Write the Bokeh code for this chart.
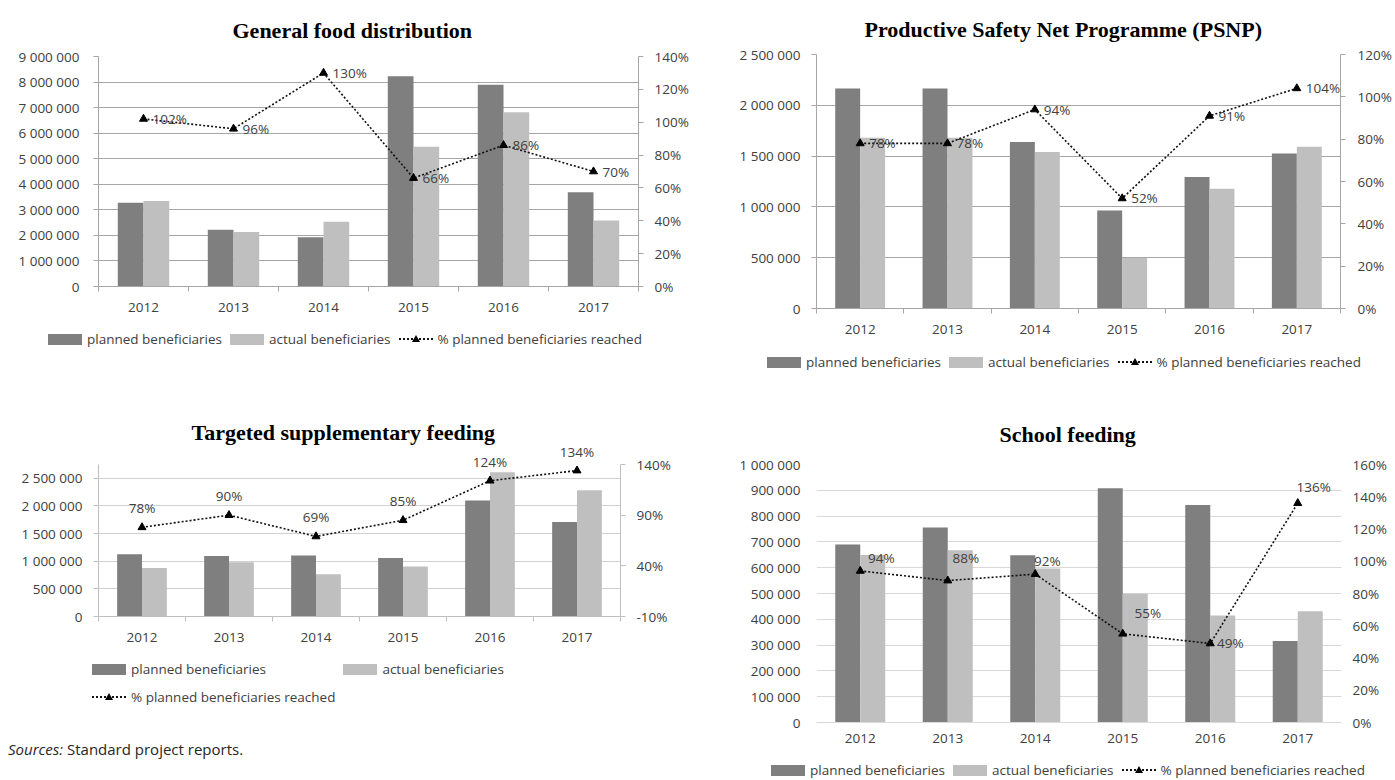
from bokeh.plotting import figure
from bokeh.models import (Range1d, LinearAxis, FixedTicker, ColumnDataSource,
                          LabelSet, Div, CustomJSTickFormatter)
from bokeh.layouts import row, column
from bokeh.transform import dodge
from bokeh.embed import file_html
from bokeh.resources import INLINE
from bokeh.core.properties import value

# ---------------------------------------------------------------- data
years = ["2012", "2013", "2014", "2015", "2016", "2017"]
series_names = ["planned beneficiaries", "actual beneficiaries",
                "% planned beneficiaries reached"]

gfd_planned = [3280000, 2220000, 1930000, 8230000, 7890000, 3690000]
gfd_actual = [3350000, 2130000, 2530000, 5470000, 6820000, 2580000]
gfd_pct = [102, 96, 130, 66, 86, 70]
gfd_left_ticks = [0, 1000000, 2000000, 3000000, 4000000, 5000000,
                  6000000, 7000000, 8000000, 9000000]
gfd_left_max = 9000000
gfd_right_ticks = [0, 20, 40, 60, 80, 100, 120, 140]
gfd_right_span = (0, 140)

psnp_planned = [2165000, 2165000, 1640000, 965000, 1295000, 1525000]
psnp_actual = [1680000, 1680000, 1540000, 497000, 1178000, 1592000]
psnp_pct = [78, 78, 94, 52, 91, 104]
psnp_left_ticks = [0, 500000, 1000000, 1500000, 2000000, 2500000]
psnp_left_max = 2500000
psnp_right_ticks = [0, 20, 40, 60, 80, 100, 120]
psnp_right_span = (0, 120)

tsf_planned = [1125000, 1095000, 1105000, 1060000, 2100000, 1710000]
tsf_actual = [878000, 980000, 765000, 905000, 2610000, 2285000]
tsf_pct = [78, 90, 69, 85, 124, 134]
tsf_left_ticks = [0, 500000, 1000000, 1500000, 2000000, 2500000]
tsf_left_max = 2750000
tsf_right_ticks = [-10, 40, 90, 140]
tsf_right_span = (-10, 140)

school_planned = [690000, 756000, 648000, 908000, 843000, 316000]
school_actual = [649000, 668000, 597000, 499000, 415000, 431000]
school_pct = [94, 88, 92, 55, 49, 136]
school_left_ticks = [0, 100000, 200000, 300000, 400000, 500000,
                     600000, 700000, 800000, 900000, 1000000]
school_left_max = 1000000
school_right_ticks = [0, 20, 40, 60, 80, 100, 120, 140, 160]
school_right_span = (0, 160)

# ---------------------------------------------------------------- styling
PLANNED = "#7f7f7f"
ACTUAL = "#bfbfbf"
TICK_TEXT = "#404040"
LABEL_TEXT = "#404040"
FONT = "Open Sans"
SIZE = "13.5px"
LINE_STYLE = dict(line_color="#111111", line_width=1.6, line_dash="2 2")
MARK_STYLE = dict(marker="triangle", size=8, fill_color="#000000", line_color="#000000")
KEY_ROW_H, KEY_GAP = 20, 8


def number_formatter():
    return CustomJSTickFormatter(
        code=r"return Math.round(tick).toString().replace(/\B(?=(\d{3})+(?!\d))/g, ' ');")


def percent_formatter():
    return CustomJSTickFormatter(code="return Math.round(tick) + '%';")


def style_axis(ax, line_color, tick_out, standoff):
    ax.major_label_text_font = FONT
    ax.major_label_text_font_size = SIZE
    ax.major_label_text_color = TICK_TEXT
    ax.axis_line_color = line_color
    ax.major_tick_line_color = line_color
    ax.major_tick_out = tick_out
    ax.major_tick_in = 0
    ax.minor_tick_line_color = None
    ax.major_label_standoff = standoff


def chart(title, planned, actual, pct, left_ticks, left_max, right_ticks, right_span, g):
    n = len(years)
    centers = [i + 0.5 for i in range(n)]
    bar_w = 1 / 3.5
    # headroom above the axis span (in pixels) so labels over the top stay visible
    stretch = g["fh"] / g["span_h"]
    lo, hi = right_span

    p = figure(width=g["l"] + g["fw"] + g["r"], height=g["t"] + g["fh"] + g["b"],
               min_border_left=g["l"], min_border_right=g["r"],
               min_border_top=g["t"], min_border_bottom=g["b"],
               x_range=Range1d(0, n), y_range=Range1d(0, left_max * stretch),
               output_backend="svg", toolbar_location=None, title=title)
    p.extra_y_ranges = {"pct": Range1d(lo, lo + (hi - lo) * stretch)}
    p.background_fill_color = "white"
    p.border_fill_color = "white"
    p.outline_line_color = None

    p.title.text_font = "Liberation Serif"
    p.title.text_font_style = "bold"
    p.title.text_font_size = "22px"
    p.title.text_color = "#000000"
    p.title.align = "left"
    p.title.offset = g["tx"]
    p.title.standoff = g["ts"]

    src = ColumnDataSource(dict(x=centers, planned=planned, actual=actual, pct=pct))

    p.vbar(x=dodge("x", -bar_w / 2), top="planned", width=bar_w, source=src,
           fill_color=PLANNED, line_color=None)
    p.vbar(x=dodge("x", bar_w / 2), top="actual", width=bar_w, source=src,
           fill_color=ACTUAL, line_color=None)
    p.line("x", "pct", source=src, y_range_name="pct", **LINE_STYLE)
    p.scatter("x", "pct", source=src, y_range_name="pct", **MARK_STYLE)

    lab_src = ColumnDataSource(dict(x=centers, pct=pct, label=[f"{v}%" for v in pct],
                                    dx=g["dx"], dy=g["dy"]))
    p.add_layout(LabelSet(x="x", y="pct", text="label", source=lab_src, y_range_name="pct",
                          x_offset="dx", y_offset="dy", text_font=value(FONT),
                          text_font_size=SIZE, text_color=LABEL_TEXT,
                          text_align=g["align"], text_baseline="middle"))

    # category axis: names at centres, small marks at category boundaries
    xa = p.xaxis[0]
    xa.ticker = FixedTicker(ticks=centers, minor_ticks=list(range(n + 1)))
    xa.formatter = CustomJSTickFormatter(args=dict(names=years),
                                         code="return names[Math.floor(tick)];")
    xa.major_label_text_font = FONT
    xa.major_label_text_font_size = SIZE
    xa.major_label_text_color = TICK_TEXT
    xa.axis_line_color = g["xline"]
    xa.major_tick_line_color = None
    xa.major_tick_out = 0
    xa.major_tick_in = 0
    xa.minor_tick_line_color = g["axis"]
    xa.minor_tick_out = g["xtick"]
    xa.minor_tick_in = 0
    xa.major_label_standoff = g["xso"]

    ya = p.yaxis[0]
    ya.ticker = FixedTicker(ticks=left_ticks)
    ya.formatter = number_formatter()
    ya.bounds = (0, left_max)
    style_axis(ya, g["axis"], g["ltick"], g["lso"])

    ra = LinearAxis(y_range_name="pct", ticker=FixedTicker(ticks=right_ticks),
                    formatter=percent_formatter(), bounds=(lo, hi))
    style_axis(ra, g["axis"], g["rtick"], g["rso"])
    p.add_layout(ra, "right")

    p.xgrid.visible = False
    p.ygrid.ticker = FixedTicker(ticks=left_ticks)
    p.ygrid.grid_line_color = g["grid"]
    p.ygrid.grid_line_width = 1
    return p


def legend_div(width, height, left, columns=3):
    """Series key shown under a chart."""
    def swatch(color):
        return (f'<span style="display:inline-block;width:34px;height:11px;'
                f'background:{color};"></span>')

    line_key = ('<span style="display:inline-block;position:relative;width:34px;height:11px;">'
                '<span style="position:absolute;left:0;width:34px;top:4px;'
                'border-top:2px dotted #111111;"></span>'
                '<span style="position:absolute;left:13px;top:1px;width:0;height:0;'
                'border-left:4px solid transparent;border-right:4px solid transparent;'
                'border-bottom:7px solid #000000;"></span></span>')
    keys = [swatch(PLANNED), swatch(ACTUAL), line_key]
    cells = "".join(
        f'<div style="display:flex;align-items:center;height:{KEY_ROW_H}px;">{k}'
        f'<span style="margin-left:5px;">{name}</span></div>'
        for k, name in zip(keys, series_names))
    html = (f'<div style="display:grid;grid-template-columns:{" ".join(["auto"] * columns)};'
            f'column-gap:{KEY_GAP}px;row-gap:{KEY_GAP}px;justify-content:start;'
            f'padding-left:{left}px;font-family:\'Open Sans\';font-size:13.5px;'
            f'line-height:{KEY_ROW_H}px;color:{TICK_TEXT};white-space:nowrap;">{cells}</div>')
    return Div(text=html, width=width, height=height, margin=(0, 0, 0, 0))


g_gfd = dict(fw=540, fh=230, span_h=230, l=98, r=62, t=56, b=43, tx=134, ts=27,
             axis="#a6a6a6", xline="#a6a6a6", grid="#a6a6a6",
             ltick=5, rtick=5, xtick=5, lso=14, rso=11, xso=11,
             dx=[9] * 6, dy=[0] * 6, align="left")
g_psnp = dict(fw=524, fh=254, span_h=254, l=116, r=55, t=54, b=44, tx=48, ts=25,
              axis="#a6a6a6", xline="#a6a6a6", grid="#a6a6a6",
              ltick=5, rtick=5, xtick=5, lso=11, rso=12, xso=11,
              dx=[9] * 6, dy=[0] * 6, align="left")
g_tsf = dict(fw=522, fh=172, span_h=152, l=98, r=80, t=49, b=43, tx=93, ts=0,
             axis="#bfbfbf", xline="#bfbfbf", grid="#d0d0d0",
             ltick=5, rtick=5, xtick=5, lso=11, rso=11, xso=11,
             dx=[0] * 6, dy=[19] * 6, align="center")
g_school = dict(fw=525, fh=258, span_h=258, l=116, r=54, t=69, b=38, tx=183, ts=36,
                axis=None, xline="#d9d9d9", grid="#d9d9d9",
                ltick=0, rtick=0, xtick=0, lso=16, rso=11, xso=11,
                dx=[21, 18, 12, 25, 20, 16], dy=[13, 23, 13, 21, 0, 16], align="center")

p1 = chart("General food distribution", gfd_planned, gfd_actual, gfd_pct,
           gfd_left_ticks, gfd_left_max, gfd_right_ticks, gfd_right_span, g_gfd)
p2 = chart("Productive Safety Net Programme (PSNP)", psnp_planned, psnp_actual, psnp_pct,
           psnp_left_ticks, psnp_left_max, psnp_right_ticks, psnp_right_span, g_psnp)
p3 = chart("Targeted supplementary feeding", tsf_planned, tsf_actual, tsf_pct,
           tsf_left_ticks, tsf_left_max, tsf_right_ticks, tsf_right_span, g_tsf)
p4 = chart("School feeding", school_planned, school_actual, school_pct,
           school_left_ticks, school_left_max, school_right_ticks, school_right_span, g_school)

k1 = legend_div(700, 66, 48)
k2 = legend_div(695, 43, 67)
k3 = legend_div(700, 48, 92, columns=2)
k4 = legend_div(695, 20, 71)

sources = Div(text=('<div style="padding:32px 0 0 8px;font-family:\'Open Sans\';'
                    'font-size:15px;color:#262626;"><i>Sources:</i> Standard project reports.</div>'),
              width=700, height=73, margin=(0, 0, 0, 0))

page = column(row(column(p1, k1), column(p2, k2)),
              row(column(p3, k3, sources), column(p4, k4)))

with open("out.html", "w") as f:
    f.write(file_html(page, INLINE, "Beneficiaries"))
